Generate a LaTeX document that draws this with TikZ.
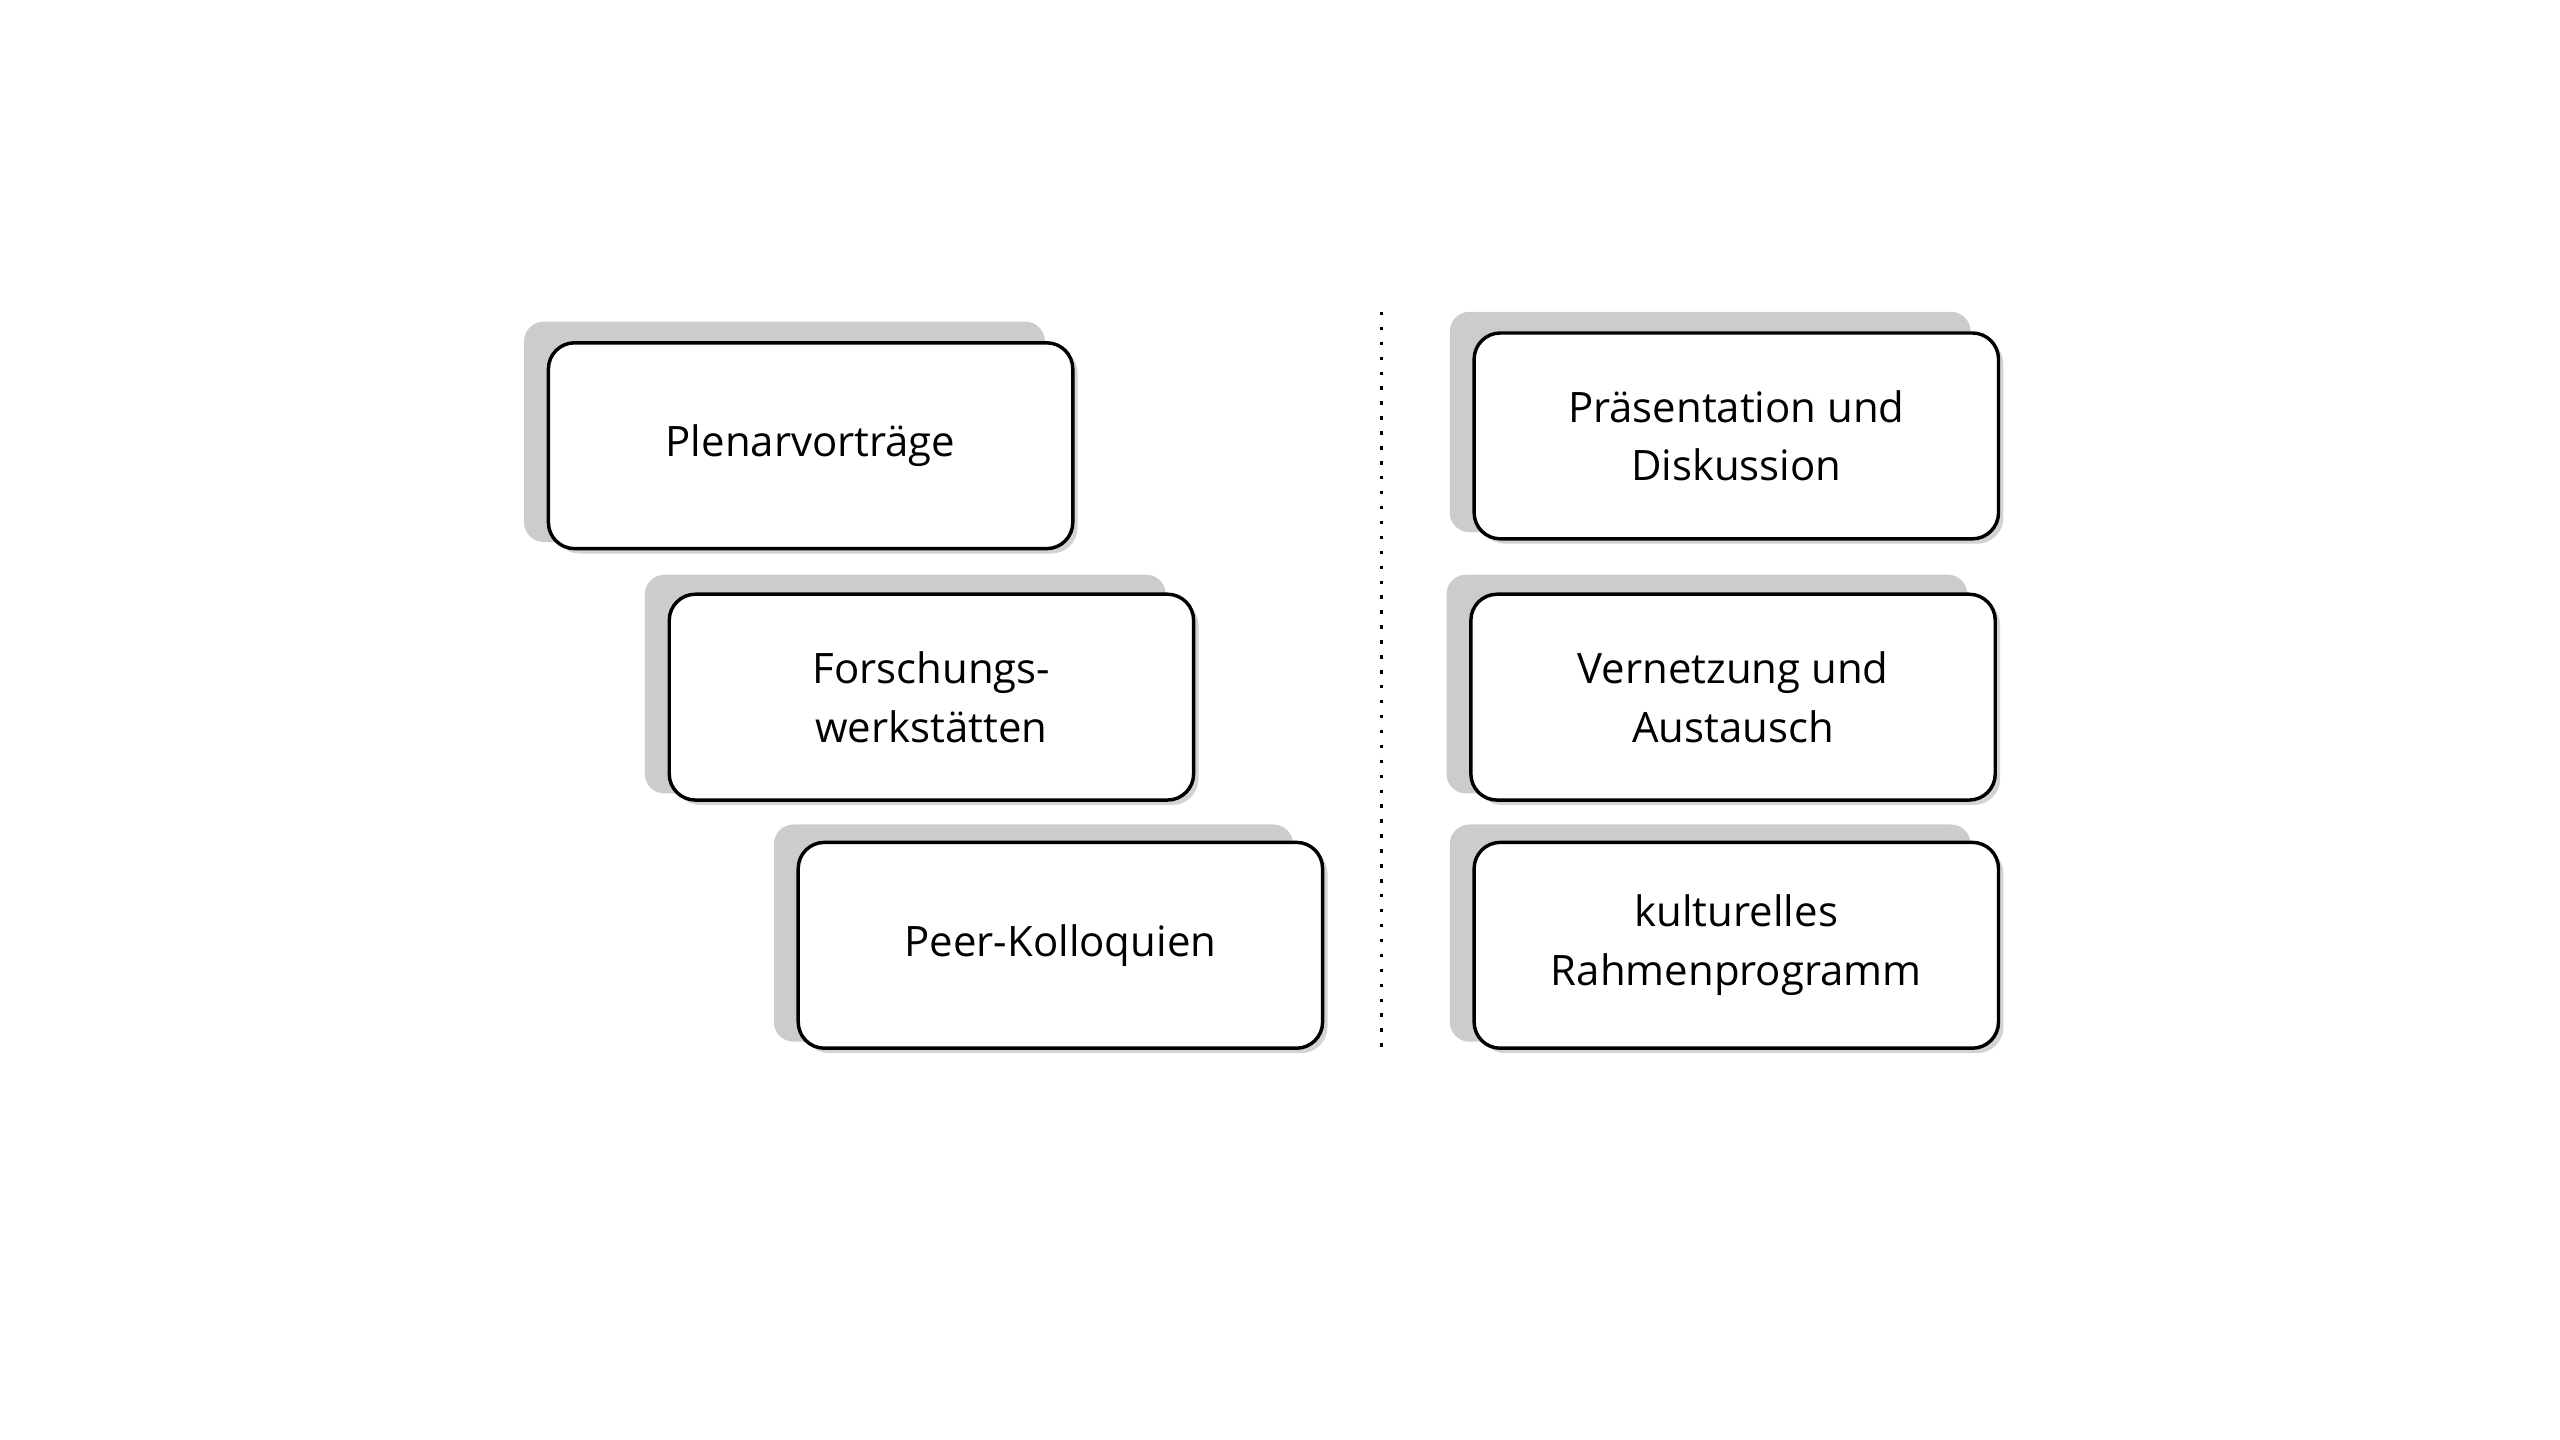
\documentclass[tikz,border=0pt]{standalone}
\usepackage{fontspec}
\setmainfont{Open Sans}
\usetikzlibrary{shadows}
\begin{document}
\begin{tikzpicture}[x=0.01cm,y=-0.01cm,
 box/.style={draw=black,line width=0.6pt,fill=white,rounded corners=0.16cm,align=center,font=\fontsize{7.3}{10.2}\selectfont,drop shadow={shadow xshift=0.03cm,shadow yshift=-0.03cm,opacity=0.35}},
 sh/.style={fill=black!20,rounded corners=0.12cm}]
\useasboundingbox (0,0) rectangle (1568,882);
\fill[sh] (321,197) rectangle (640,332);
\fill[sh] (395,352) rectangle (714,486);
\fill[sh] (474,505) rectangle (792,638);
\fill[sh] (888,191) rectangle (1207,326);
\fill[sh] (886,352) rectangle (1205,486);
\fill[sh] (888,505) rectangle (1207,638);
\node[box,minimum width=3.21cm,minimum height=1.26cm] (a) at (496.5,273) {Plenarvorträge};
\node[box,minimum width=3.21cm,minimum height=1.26cm] (b) at (570.5,427) {Forschungs-\\werkstätten};
\node[box,minimum width=3.21cm,minimum height=1.26cm] (c) at (649.5,579) {Peer-Kolloquien};
\node[box,minimum width=3.21cm,minimum height=1.26cm] (d) at (1063.5,267) {Präsentation und\\Diskussion};
\node[box,minimum width=3.21cm,minimum height=1.26cm] (e) at (1061.5,427) {Vernetzung und\\Austausch};
\node[box,minimum width=3.21cm,minimum height=1.26cm] (f) at (1063.5,579) {kulturelles\\Rahmenprogramm};
\coordinate (t) at (846,191); \coordinate (u) at (846,642);
\draw[line width=0.6pt,dotted] (t) -- (u);
\end{tikzpicture}
\end{document}
